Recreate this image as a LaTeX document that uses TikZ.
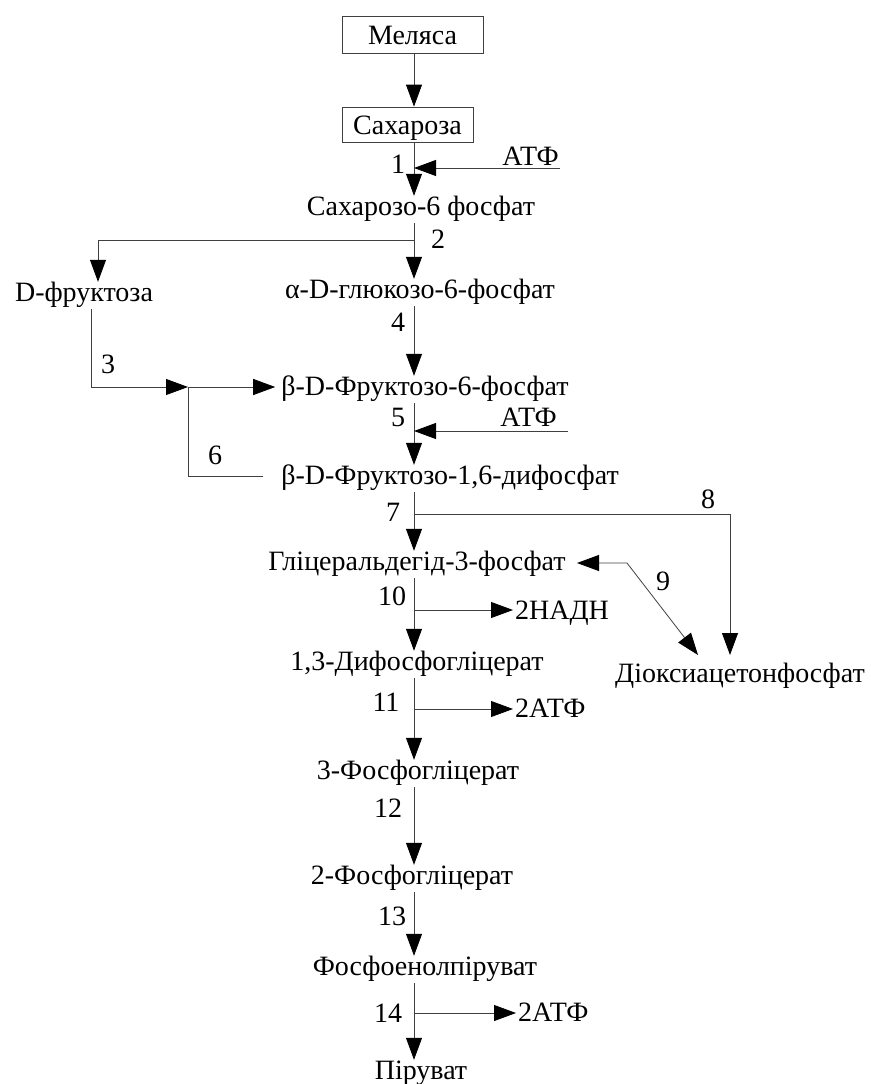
\documentclass[tikz,border=0pt]{standalone}
\usepackage{fontspec}
\setmainfont{Liberation Serif}
\usetikzlibrary{arrows.meta}
\begin{document}
\begin{tikzpicture}[x=1pt,y=-1pt,
  fnt/.style={font=\fontsize{28}{33}\selectfont},
  spc/.style={fnt, inner sep=0pt, text height=19pt, text depth=8pt, anchor=base},
  num/.style={fnt, inner sep=0pt, anchor=base},
  box/.style={fnt, draw, line width=0.8pt, draw=black!75, inner sep=0pt, text height=19pt, text depth=0pt},
  ln/.style={line width=0.8pt, draw=black!75},
  tip/.style={Triangle[length=22pt,width=16pt,black]},
  arr/.style={ln, -{Triangle[length=22pt,width=16pt,black]}},
  darr/.style={ln, {Triangle[length=22pt,width=16pt,black]}-{Triangle[length=22pt,width=16pt,black]}}]
\useasboundingbox (0,0) rectangle (870,1084);
\coordinate (spine) at (414,0);
% species
\node[box, minimum width=141pt, minimum height=37pt] (mel) at (412.5,34.5) {Меляса};
\node[box, minimum width=131pt, minimum height=35pt] (sah) at (407.5,124.5) {Сахароза};
\node[spc] (s6p) at (421,215) {Сахарозо-6 фосфат};
\node[spc] (fru) at (84,301) {D-фруктоза};
\node[spc] (g6p) at (420,298) {α-D-глюкозо-6-фосфат};
\node[spc] (f6p) at (425,395) {β-D-Фруктозо-6-фосфат};
\node[spc] (f16) at (450,484) {β-D-Фруктозо-1,6-дифосфат};
\node[spc] (gap) at (417,570) {Гліцеральдегід-3-фосфат};
\node[spc] (dhap) at (740,682) {Діоксиацетонфосфат};
\node[spc] (bpg) at (417,670) {1,3-Дифосфогліцерат};
\node[spc] (pg3) at (418,779) {3-Фосфогліцерат};
\node[spc] (pg2) at (412,884) {2-Фосфогліцерат};
\node[spc] (pep) at (425,975) {Фосфоенолпіруват};
\node[spc] (pyr) at (421,1079) {Піруват};
% side products
\node[spc, anchor=base east] (atf1) at (559,165) {АТФ};
\node[spc, anchor=base east] (atf5) at (557,426) {АТФ};
\node[spc, anchor=base west] (nadh) at (515,619) {2НАДН};
\node[spc, anchor=base west] (atp11) at (515,717) {2АТФ};
\node[spc, anchor=base west] (atp14) at (518,1021) {2АТФ};
% reaction numbers
\node[num] (n1) at (398,173) {1};
\node[num] (n2) at (438,248) {2};
\node[num] (n3) at (108,373) {3};
\node[num] (n4) at (398,331) {4};
\node[num] (n5) at (398,426) {5};
\node[num] (n6) at (215,464) {6};
\node[num] (n7) at (393,521) {7};
\node[num] (n8) at (708,508) {8};
\node[num] (n9) at (663,590) {9};
\node[num] (n10) at (392,605) {10};
\node[num] (n11) at (386,711) {11};
\node[num] (n12) at (388,817) {12};
\node[num] (n13) at (392,925) {13};
\node[num] (n14) at (388,1022) {14};
% coordinates
\coordinate (e1) at (560,168);
\coordinate (b2) at (414,240);
\coordinate (fx) at (98,0);
\coordinate (fx3) at (91,0);
\coordinate (j) at (188,387);
\coordinate (c6) at (263,476);
\coordinate (e5) at (568,431);
\coordinate (b7) at (414,514);
\coordinate (x8) at (730,655);
\coordinate (t9a) at (577,563);
\coordinate (k9) at (627,563);
\coordinate (t9b) at (698,655);
\coordinate (b10) at (414,610);
\coordinate (b11) at (414,709);
\coordinate (b14) at (414,1013);
% connectors
\draw[arr] (mel.south -| spine) -- (sah.north -| spine);
\draw[arr] (sah.south -| spine) -- (s6p.north -| spine);
\draw[arr] (e1) -- (e1 -| spine);
\draw[arr] (s6p.south -| spine) -- (g6p.north -| spine);
\draw[arr] (b2) -| (fru.north -| fx);
\draw[arr] (fru.south -| fx3) |- (j);
\draw[ln] (c6) -| (j);
\draw[arr] (j) -- ([xshift=-6pt]f6p.west |- j);
\draw[arr] (g6p.south -| spine) -- (f6p.north -| spine);
\draw[arr] (f6p.south -| spine) -- (f16.north -| spine);
\draw[arr] (e5) -- (e5 -| spine);
\draw[arr] (f16.south -| spine) -- (gap.north -| spine);
\draw[arr] (b7) -| (x8);
\draw[darr] (t9a) -- (k9) -- (t9b);
\draw[arr] (gap.south -| spine) -- (bpg.north -| spine);
\draw[arr] (b10) -- ([xshift=-2pt]nadh.west |- b10);
\draw[arr] (bpg.south -| spine) -- (pg3.north -| spine);
\draw[arr] (b11) -- ([xshift=-2pt]atp11.west |- b11);
\draw[arr] (pg3.south -| spine) -- (pg2.north -| spine);
\draw[arr] (pg2.south -| spine) -- (pep.north -| spine);
\draw[arr] (pep.south -| spine) -- (pyr.north -| spine);
\draw[arr] (b14) -- ([xshift=-2pt]atp14.west |- b14);
\end{tikzpicture}
\end{document}
